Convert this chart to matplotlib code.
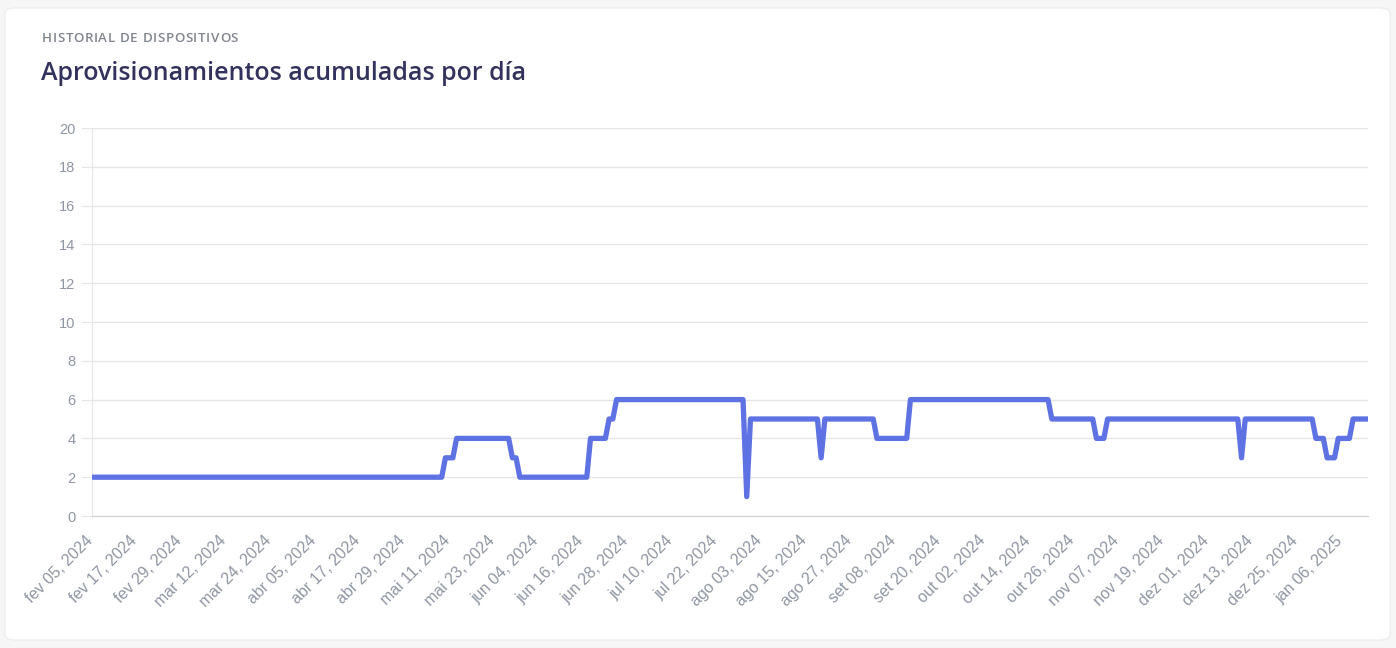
import matplotlib.pyplot as plt
from matplotlib.patches import FancyBboxPatch
from matplotlib.transforms import ScaledTranslation
import numpy as np
import pandas as pd

# Data: daily cumulative provisioning, stored as run lengths (value, number of days)
start_date = '2024-02-05'
levels = [2, 3, 4, 3, 2, 4, 5, 6, 1, 5, 3, 5, 4, 6, 5, 4, 5, 3, 5, 4, 3, 4, 5]
run_days = [95, 3, 15, 2, 19, 5, 2, 35, 1, 19, 1, 14, 9, 38, 12, 3, 36, 1, 19, 3, 3, 4, 5]
months_pt = ['jan', 'fev', 'mar', 'abr', 'mai', 'jun',
             'jul', 'ago', 'set', 'out', 'nov', 'dez']
y_ticks = [0, 2, 4, 6, 8, 10, 12, 14, 16, 18, 20]

values = np.repeat(levels, run_days)
dates = pd.date_range(start_date, periods=len(values), freq='D')
tick_dates = dates[::12]
tick_labels = [f"{months_pt[d.month - 1]} {d.day:02d}, {d.year}" for d in tick_dates]

W, H = 1396, 648
fig = plt.figure(figsize=(W / 100, H / 100), dpi=100)
fig.patch.set_facecolor('#f6f6f7')

# white card behind everything
card = FancyBboxPatch((5 / W, 8 / H), 1385 / W, 632 / H,
                      boxstyle='round,pad=0,rounding_size=0.008',
                      transform=fig.transFigure, facecolor='white',
                      edgecolor='#ececee', linewidth=0.8, zorder=-10)
fig.patches.append(card)

# small letter-spaced heading
renderer = fig.canvas.get_renderer()
x = 42
for ch in 'HISTORIAL DE DISPOSITIVOS':
    t = fig.text(x / W, 1 - 38 / H, ch, fontsize=9.6, family='Open Sans',
                 weight='semibold', color='#80858f', va='center', ha='left')
    x += t.get_window_extent(renderer).width + 0.6

fig.text(41 / W, 1 - 73 / H, 'Aprovisionamientos acumuladas por día',
         fontsize=18, family='Open Sans', weight='semibold', color='#32325d',
         va='center', ha='left')

ax = fig.add_axes([92 / W, (H - 516) / H, (1368 - 92) / W, (516 - 128) / H])
ax.set_facecolor('white')

ax.plot(dates, values, color='#5e72e4', linewidth=3.8,
        solid_joinstyle='round', solid_capstyle='butt', zorder=3)

ax.set_xlim(dates[0], dates[-1])
ax.set_ylim(0, 20)
ax.set_yticks(y_ticks)
ax.set_xticks(tick_dates)

ax.grid(axis='y', color='#e6e6e9', linewidth=1)
ax.tick_params(axis='y', length=8, color='#e6e6e9', pad=4)
ax.tick_params(axis='x', length=0, pad=10)
for s in ['top', 'right']:
    ax.spines[s].set_visible(False)
ax.spines['left'].set_color('#e6e6e9')
ax.spines['bottom'].set_color('#cfd0d4')
ax.set_axisbelow(True)

ax.set_xticklabels(tick_labels, rotation=45, ha='right', rotation_mode='anchor')

label_color = '#8f96a3'
for lab in ax.get_xticklabels() + ax.get_yticklabels():
    lab.set_family('Liberation Sans')
    lab.set_fontsize(10.5)
    lab.set_color(label_color)
shift = ScaledTranslation(-7 / 100, -3 / 100, fig.dpi_scale_trans)
for lab in ax.get_xticklabels():
    lab.set_fontsize(11.5)
    lab.set_transform(lab.get_transform() + shift)

fig.savefig('out.png', dpi=100, facecolor=fig.get_facecolor())
